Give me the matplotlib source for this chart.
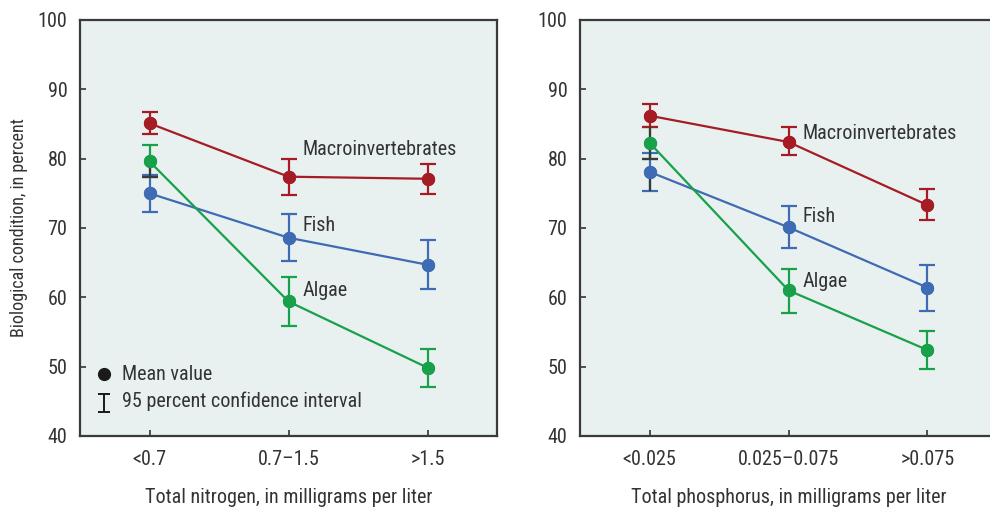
import matplotlib
matplotlib.use("Agg")
import matplotlib.pyplot as plt
from matplotlib import font_manager

# ---------------- data ----------------
nitrogen_cats = ["<0.7", "0.7\u20131.5", ">1.5"]
phosphorus_cats = ["<0.025", "0.025\u20130.075", ">0.075"]

series_names = ["Macroinvertebrates", "Fish", "Algae"]

# Nitrogen panel: mean, lower CI, upper CI
n_macro_mean = [85.1, 77.4, 77.1]
n_macro_lo = [83.5, 74.7, 74.95]
n_macro_hi = [86.8, 80.0, 79.2]
n_fish_mean = [75.0, 68.6, 64.7]
n_fish_lo = [72.35, 65.2, 61.2]
n_fish_hi = [77.6, 72.0, 68.2]
n_algae_mean = [79.6, 59.4, 49.85]
n_algae_lo = [77.3, 55.8, 47.1]
n_algae_hi = [82.0, 62.9, 52.6]

# Phosphorus panel
p_macro_mean = [86.2, 82.4, 73.3]
p_macro_lo = [84.6, 80.5, 71.15]
p_macro_hi = [87.9, 84.5, 75.6]
p_fish_mean = [78.1, 70.1, 61.4]
p_fish_lo = [75.4, 67.1, 58.1]
p_fish_hi = [80.8, 73.2, 64.6]
p_algae_mean = [82.3, 61.0, 52.4]
p_algae_lo = [80.0, 57.7, 49.6]
p_algae_hi = [84.6, 64.1, 55.1]

y_ticks = [40, 50, 60, 70, 80, 90, 100]
x_label_n = "Total nitrogen, in milligrams per liter"
x_label_p = "Total phosphorus, in milligrams per liter"
y_label = "Biological condition, in percent"
legend_mean = "Mean value"
legend_ci = "95 percent confidence interval"

# ---------------- style ----------------
fl = font_manager.fontManager.ttflist
names = {f.name for f in fl}
STRETCH = "normal"
if "Liberation Sans Narrow" in names:
    FAM, FS, YFS = ["Liberation Sans Narrow", "DejaVu Sans"], 14.5, 13
elif "Roboto Condensed" in names:
    FAM, FS, YFS = ["Roboto Condensed", "DejaVu Sans"], 14.5, 13
elif any(f.name == "DejaVu Sans" and "ondensed" in f.fname for f in fl):
    FAM, FS, YFS = ["DejaVu Sans"], 12.5, 11.5
    STRETCH = "condensed"
else:
    FAM, FS, YFS = ["Roboto", "DejaVu Sans"], 13, 12.3
plt.rcParams["font.family"] = FAM
plt.rcParams["font.stretch"] = STRETCH

TXT = "#333333"
BG = "#E8F1F0"
COLORS = {"Macroinvertebrates": "#A51C24", "Fish": "#3E6BB4", "Algae": "#18A04A"}
DARK = "#3a3a3a"

fig = plt.figure(figsize=(9.9, 5.09), dpi=100)
W, H = 990.0, 509.0
ax_l = fig.add_axes([80 / W, 73 / H, 417 / W, 416 / H])
ax_r = fig.add_axes([580 / W, 73 / H, 417 / W, 416 / H])


def draw_panel(ax, cats, data, label_pos, xlabel, dark_parts):
    ax.set_facecolor(BG)
    x = list(range(len(cats)))
    order = ["Fish", "Algae", "Macroinvertebrates"]
    for name in order:
        mean, lo, hi = data[name]
        c = COLORS[name]
        yerr = [[m - l for m, l in zip(mean, lo)], [h - m for m, h in zip(mean, hi)]]
        ax.errorbar(x, mean, yerr=yerr, color=c, lw=1.6, elinewidth=1.6,
                    capsize=5.5, capthick=1.6, marker="o", markersize=8.5,
                    zorder=3)
    # darker overlapping whisker parts at the first category
    for name, part in dark_parts:
        mean, lo, hi = data[name]
        m = mean[0]
        if part.startswith("lower"):
            ax.errorbar([0], [m], yerr=[[m - lo[0]], [0]], fmt="none",
                        ecolor=DARK, elinewidth=1.6, capsize=0, zorder=3.5)
            if part == "lower_cap":
                ax.plot([0], [lo[0]], marker="_", ms=11, mew=1.6, color=DARK, zorder=3.6)
        else:
            ax.errorbar([0], [m], yerr=[[0], [hi[0] - m]], fmt="none",
                        ecolor=DARK, elinewidth=1.6, capsize=0, zorder=3.5)
    # markers on top
    for name in order:
        mean = data[name][0]
        ax.plot(x, mean, ls="none", marker="o", ms=8.5, color=COLORS[name], zorder=4)
    for name, (lx, ly) in label_pos.items():
        ax.text(lx, ly, name, ha="left", va="center", fontsize=FS, color=TXT)

    ax.set_xlim(-0.5, 2.5)
    ax.set_ylim(40, 100)
    ax.set_xticks(x)
    ax.set_xticklabels(cats)
    ax.set_yticks(y_ticks)
    ax.tick_params(axis="both", direction="in", length=4, width=1.2,
                   colors=TXT, labelsize=FS, labelcolor=TXT)
    ax.tick_params(axis="x", pad=10)
    ax.tick_params(axis="y", pad=9)
    for s in ax.spines.values():
        s.set_color(DARK)
        s.set_linewidth(1.6)
    ax.set_xlabel(xlabel, fontsize=FS, color=TXT, labelpad=14)


data_n = {
    "Macroinvertebrates": (n_macro_mean, n_macro_lo, n_macro_hi),
    "Fish": (n_fish_mean, n_fish_lo, n_fish_hi),
    "Algae": (n_algae_mean, n_algae_lo, n_algae_hi),
}
data_p = {
    "Macroinvertebrates": (p_macro_mean, p_macro_lo, p_macro_hi),
    "Fish": (p_fish_mean, p_fish_lo, p_fish_hi),
    "Algae": (p_algae_mean, p_algae_lo, p_algae_hi),
}

draw_panel(ax_l, nitrogen_cats, data_n,
           {"Macroinvertebrates": (1.1, 81.25), "Fish": (1.1, 70.3), "Algae": (1.1, 61.0)},
           x_label_n, [("Algae", "lower_cap")])
draw_panel(ax_r, phosphorus_cats, data_p,
           {"Macroinvertebrates": (1.1, 83.65), "Fish": (1.1, 71.6), "Algae": (1.1, 62.35)},
           x_label_p, [("Algae", "lower_cap"), ("Algae", "upper"), ("Fish", "lower")])
ax_r.spines["right"].set_visible(False)

ax_l.set_ylabel(y_label, fontsize=YFS, color=TXT)
ax_l.yaxis.set_label_coords(-0.125, 0.5)

# legend drawn by hand inside the left panel
ax_l.plot([0.058], [0.148], transform=ax_l.transAxes, marker="o", ms=8.5,
          color="#1a1a1a", ls="none")
ax_l.errorbar([0.058], [0.079], yerr=[[0.022], [0.022]], transform=ax_l.transAxes,
              fmt="none", ecolor="#1a1a1a", elinewidth=1.4, capsize=4.5, capthick=1.4)
ax_l.text(0.1, 0.148, legend_mean, transform=ax_l.transAxes, ha="left", va="center",
          fontsize=FS, color=TXT)
ax_l.text(0.1, 0.083, legend_ci, transform=ax_l.transAxes, ha="left", va="center",
          fontsize=FS, color=TXT)

fig.savefig("out.png", dpi=100)
